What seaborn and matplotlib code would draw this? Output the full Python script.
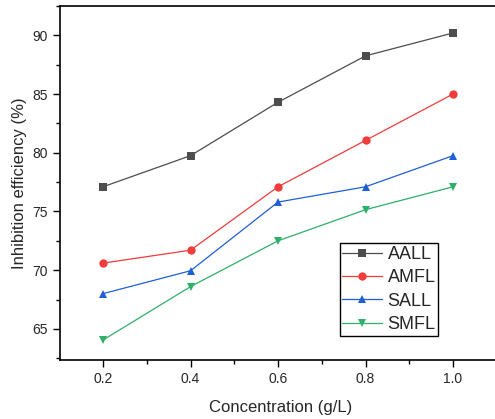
import pandas as pd
import matplotlib
matplotlib.use("Agg")
import matplotlib.pyplot as plt
import seaborn as sns
from matplotlib.ticker import MultipleLocator

# Data
concentration = [0.2, 0.4, 0.6, 0.8, 1.0]
aall = [77.1, 79.75, 84.3, 88.25, 90.2]
amfl = [70.6, 71.7, 77.1, 81.05, 85.0]
sall = [68.0, 69.95, 75.8, 77.1, 79.75]
smfl = [64.05, 68.6, 72.5, 75.15, 77.1]
series_names = ["AALL", "AMFL", "SALL", "SMFL"]

df = pd.DataFrame({
    "Concentration": concentration * 4,
    "IE": aall + amfl + sall + smfl,
    "Sample": [n for n in series_names for _ in concentration],
})

colors = {"AALL": "#4d4d4d", "AMFL": "#f03c3c", "SALL": "#1f5fd6", "SMFL": "#2fb06a"}
markers = {"AALL": "s", "AMFL": "o", "SALL": "^", "SMFL": "v"}

sns.set_style("ticks")
plt.rcParams["font.family"] = ["Liberation Sans", "DejaVu Sans"]

fig = plt.figure(figsize=(4.95, 4.19), dpi=100)
ax = fig.add_axes([0.1212, 0.1408, 0.89, 0.845])

sns.lineplot(data=df, x="Concentration", y="IE", hue="Sample", style="Sample",
             palette=colors, markers=markers, dashes=False, linewidth=0.9,
             markersize=6, markeredgewidth=0, ax=ax)

ax.set_xlim(0.1017, 1.1086)
ax.set_ylim(62.35, 92.5)
ax.xaxis.set_major_locator(MultipleLocator(0.2))
ax.xaxis.set_minor_locator(MultipleLocator(0.1))
ax.yaxis.set_major_locator(MultipleLocator(5))
ax.yaxis.set_minor_locator(MultipleLocator(2.5))
ax.set_xticks([0.2, 0.4, 0.6, 0.8, 1.0])
ax.set_xticklabels(["0.2", "0.4", "0.6", "0.8", "1.0"])
ax.tick_params(which="major", length=5, width=1, labelsize=10, direction="out", color="black")
ax.tick_params(which="minor", length=3, width=1, direction="out", color="black")
for s in ax.spines.values():
    s.set_color("black")
    s.set_linewidth(1.2)

ax.set_xlabel("Concentration (g/L)", fontsize=12, labelpad=10)
ax.set_ylabel("Inhibition efficiency (%)", fontsize=12)

leg = ax.legend(loc="upper left", bbox_to_anchor=(0.635, 0.33), fontsize=13,
                frameon=True, fancybox=False, edgecolor="black", framealpha=1,
                handlelength=2.2, handletextpad=0.3, labelspacing=0.35,
                borderpad=0.15, borderaxespad=0)
leg.get_frame().set_linewidth(1)

fig.savefig("out.png", dpi=100)
